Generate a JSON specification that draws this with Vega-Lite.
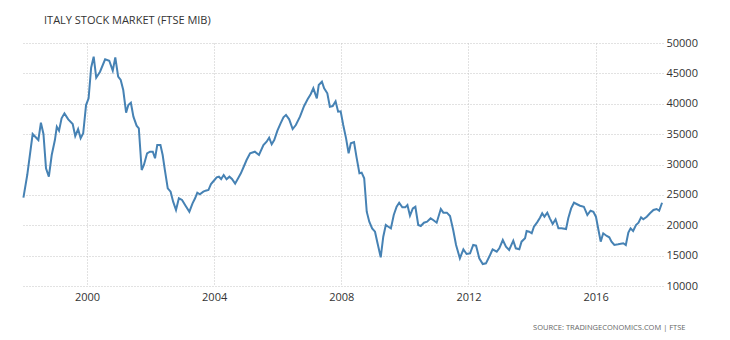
{
  "$schema": "https://vega.github.io/schema/vega-lite/v6.json",
  "width": 641,
  "height": 243,
  "autosize": {"type": "none"},
  "padding": {"left": 22, "top": 43, "right": 67, "bottom": 54},
  "background": "white",
  "title": {
    "text": "ITALY STOCK MARKET (FTSE MIB)",
    "anchor": "start",
    "frame": "group",
    "dx": 22,
    "offset": 5,
    "baseline": "middle",
    "font": "Open Sans",
    "fontSize": 11,
    "fontWeight": "normal",
    "color": "#333333"
  },
  "config": {
    "view": {"stroke": null},
    "axis": {
      "labelFont": "Open Sans",
      "labelFontSize": 11,
      "labelColor": "#333333",
      "grid": true,
      "gridColor": "#c4c4c4",
      "gridDash": [1, 2],
      "gridWidth": 1,
      "domain": false,
      "ticks": false
    }
  },
  "data": {
    "values": [
      {"year": 1998.00, "value": 24540},
      {"year": 1998.12, "value": 28270},
      {"year": 1998.29, "value": 35020},
      {"year": 1998.47, "value": 34030},
      {"year": 1998.55, "value": 36880},
      {"year": 1998.63, "value": 35020},
      {"year": 1998.71, "value": 29370},
      {"year": 1998.80, "value": 27990},
      {"year": 1998.89, "value": 31560},
      {"year": 1998.99, "value": 34030},
      {"year": 1999.05, "value": 36220},
      {"year": 1999.12, "value": 35570},
      {"year": 1999.20, "value": 37600},
      {"year": 1999.29, "value": 38420},
      {"year": 1999.41, "value": 37430},
      {"year": 1999.55, "value": 36670},
      {"year": 1999.63, "value": 34690},
      {"year": 1999.72, "value": 35840},
      {"year": 1999.80, "value": 34310},
      {"year": 1999.88, "value": 35130},
      {"year": 1999.97, "value": 39790},
      {"year": 2000.05, "value": 40890},
      {"year": 2000.13, "value": 45930},
      {"year": 2000.21, "value": 47740},
      {"year": 2000.29, "value": 44290},
      {"year": 2000.41, "value": 45270},
      {"year": 2000.57, "value": 47310},
      {"year": 2000.70, "value": 47080},
      {"year": 2000.81, "value": 45440},
      {"year": 2000.89, "value": 47640},
      {"year": 2000.98, "value": 44450},
      {"year": 2001.06, "value": 43910},
      {"year": 2001.14, "value": 42260},
      {"year": 2001.23, "value": 38530},
      {"year": 2001.30, "value": 39790},
      {"year": 2001.38, "value": 40170},
      {"year": 2001.46, "value": 37870},
      {"year": 2001.56, "value": 36390},
      {"year": 2001.63, "value": 35960},
      {"year": 2001.72, "value": 29090},
      {"year": 2001.79, "value": 29920},
      {"year": 2001.89, "value": 31840},
      {"year": 2001.98, "value": 32110},
      {"year": 2002.07, "value": 32110},
      {"year": 2002.14, "value": 31020},
      {"year": 2002.21, "value": 33210},
      {"year": 2002.31, "value": 33210},
      {"year": 2002.38, "value": 31560},
      {"year": 2002.45, "value": 29090},
      {"year": 2002.54, "value": 26080},
      {"year": 2002.63, "value": 25520},
      {"year": 2002.71, "value": 23880},
      {"year": 2002.80, "value": 22510},
      {"year": 2002.89, "value": 24440},
      {"year": 2002.99, "value": 24160},
      {"year": 2003.10, "value": 23220},
      {"year": 2003.22, "value": 22230},
      {"year": 2003.32, "value": 23610},
      {"year": 2003.40, "value": 24440},
      {"year": 2003.47, "value": 25360},
      {"year": 2003.55, "value": 25090},
      {"year": 2003.66, "value": 25520},
      {"year": 2003.73, "value": 25690},
      {"year": 2003.82, "value": 25800},
      {"year": 2003.90, "value": 26790},
      {"year": 2003.99, "value": 27330},
      {"year": 2004.08, "value": 27890},
      {"year": 2004.15, "value": 27990},
      {"year": 2004.22, "value": 27610},
      {"year": 2004.30, "value": 28270},
      {"year": 2004.39, "value": 27560},
      {"year": 2004.48, "value": 27990},
      {"year": 2004.56, "value": 27610},
      {"year": 2004.66, "value": 26850},
      {"year": 2004.78, "value": 27990},
      {"year": 2004.84, "value": 28550},
      {"year": 2004.94, "value": 29750},
      {"year": 2005.02, "value": 30740},
      {"year": 2005.13, "value": 31840},
      {"year": 2005.28, "value": 32110},
      {"year": 2005.41, "value": 31560},
      {"year": 2005.55, "value": 33210},
      {"year": 2005.65, "value": 33750},
      {"year": 2005.73, "value": 34410},
      {"year": 2005.81, "value": 33320},
      {"year": 2005.89, "value": 34030},
      {"year": 2005.99, "value": 35570},
      {"year": 2006.09, "value": 36780},
      {"year": 2006.18, "value": 37770},
      {"year": 2006.26, "value": 38150},
      {"year": 2006.36, "value": 37440},
      {"year": 2006.47, "value": 35840},
      {"year": 2006.57, "value": 36500},
      {"year": 2006.70, "value": 37870},
      {"year": 2006.83, "value": 39630},
      {"year": 2006.94, "value": 40730},
      {"year": 2007.04, "value": 41600},
      {"year": 2007.12, "value": 42540},
      {"year": 2007.23, "value": 40890},
      {"year": 2007.29, "value": 43080},
      {"year": 2007.39, "value": 43630},
      {"year": 2007.46, "value": 42540},
      {"year": 2007.56, "value": 41720},
      {"year": 2007.64, "value": 39520},
      {"year": 2007.73, "value": 39630},
      {"year": 2007.82, "value": 40400},
      {"year": 2007.90, "value": 38690},
      {"year": 2007.98, "value": 38750},
      {"year": 2008.06, "value": 36500},
      {"year": 2008.15, "value": 34310},
      {"year": 2008.23, "value": 31840},
      {"year": 2008.30, "value": 33490},
      {"year": 2008.40, "value": 33700},
      {"year": 2008.48, "value": 31180},
      {"year": 2008.57, "value": 28550},
      {"year": 2008.64, "value": 28650},
      {"year": 2008.72, "value": 27730},
      {"year": 2008.80, "value": 22230},
      {"year": 2008.88, "value": 20580},
      {"year": 2008.97, "value": 19490},
      {"year": 2009.06, "value": 18940},
      {"year": 2009.14, "value": 17030},
      {"year": 2009.24, "value": 14720},
      {"year": 2009.32, "value": 18110},
      {"year": 2009.40, "value": 20040},
      {"year": 2009.48, "value": 19760},
      {"year": 2009.56, "value": 19490},
      {"year": 2009.65, "value": 21690},
      {"year": 2009.74, "value": 23050},
      {"year": 2009.82, "value": 23710},
      {"year": 2009.92, "value": 22950},
      {"year": 2010.01, "value": 22950},
      {"year": 2010.08, "value": 23330},
      {"year": 2010.16, "value": 21570},
      {"year": 2010.25, "value": 22780},
      {"year": 2010.33, "value": 23050},
      {"year": 2010.42, "value": 20040},
      {"year": 2010.50, "value": 19880},
      {"year": 2010.60, "value": 20420},
      {"year": 2010.70, "value": 20580},
      {"year": 2010.81, "value": 21140},
      {"year": 2010.89, "value": 20860},
      {"year": 2011.00, "value": 20420},
      {"year": 2011.13, "value": 22670},
      {"year": 2011.21, "value": 22070},
      {"year": 2011.32, "value": 22070},
      {"year": 2011.42, "value": 21520},
      {"year": 2011.52, "value": 19220},
      {"year": 2011.61, "value": 16750},
      {"year": 2011.73, "value": 14560},
      {"year": 2011.84, "value": 16040},
      {"year": 2011.94, "value": 15270},
      {"year": 2012.05, "value": 15380},
      {"year": 2012.15, "value": 16750},
      {"year": 2012.24, "value": 16640},
      {"year": 2012.34, "value": 14560},
      {"year": 2012.45, "value": 13620},
      {"year": 2012.55, "value": 13730},
      {"year": 2012.68, "value": 15100},
      {"year": 2012.76, "value": 16040},
      {"year": 2012.89, "value": 15650},
      {"year": 2012.97, "value": 16200},
      {"year": 2013.08, "value": 17570},
      {"year": 2013.18, "value": 16470},
      {"year": 2013.28, "value": 15930},
      {"year": 2013.41, "value": 17460},
      {"year": 2013.49, "value": 16200},
      {"year": 2013.60, "value": 16040},
      {"year": 2013.67, "value": 17300},
      {"year": 2013.78, "value": 17850},
      {"year": 2013.83, "value": 19050},
      {"year": 2013.91, "value": 18940},
      {"year": 2013.99, "value": 18670},
      {"year": 2014.06, "value": 19760},
      {"year": 2014.16, "value": 20480},
      {"year": 2014.25, "value": 21240},
      {"year": 2014.32, "value": 21970},
      {"year": 2014.39, "value": 21410},
      {"year": 2014.48, "value": 22070},
      {"year": 2014.56, "value": 21140},
      {"year": 2014.65, "value": 20200},
      {"year": 2014.74, "value": 20980},
      {"year": 2014.83, "value": 19490},
      {"year": 2014.93, "value": 19490},
      {"year": 2015.07, "value": 19380},
      {"year": 2015.14, "value": 21140},
      {"year": 2015.23, "value": 22780},
      {"year": 2015.32, "value": 23710},
      {"year": 2015.40, "value": 23500},
      {"year": 2015.51, "value": 23220},
      {"year": 2015.63, "value": 23050},
      {"year": 2015.74, "value": 21690},
      {"year": 2015.84, "value": 22390},
      {"year": 2015.93, "value": 22230},
      {"year": 2016.01, "value": 21410},
      {"year": 2016.09, "value": 19220},
      {"year": 2016.16, "value": 17300},
      {"year": 2016.24, "value": 18670},
      {"year": 2016.35, "value": 18230},
      {"year": 2016.43, "value": 18010},
      {"year": 2016.50, "value": 17300},
      {"year": 2016.59, "value": 16750},
      {"year": 2016.71, "value": 16860},
      {"year": 2016.87, "value": 17030},
      {"year": 2016.95, "value": 16750},
      {"year": 2017.03, "value": 18780},
      {"year": 2017.10, "value": 19490},
      {"year": 2017.18, "value": 19050},
      {"year": 2017.27, "value": 20040},
      {"year": 2017.35, "value": 20420},
      {"year": 2017.43, "value": 21300},
      {"year": 2017.50, "value": 20980},
      {"year": 2017.61, "value": 21410},
      {"year": 2017.71, "value": 21970},
      {"year": 2017.82, "value": 22510},
      {"year": 2017.92, "value": 22670},
      {"year": 2018.00, "value": 22390},
      {"year": 2018.09, "value": 23710}
    ]
  },
  "mark": {"type": "line", "color": "#4682b4", "strokeWidth": 2, "interpolate": "linear"},
  "encoding": {
    "x": {
      "field": "year",
      "type": "quantitative",
      "scale": {"domain": [1997.955, 2018.12], "nice": false, "zero": false},
      "axis": {
        "values": [2000, 2004, 2008, 2012, 2016],
        "format": "d",
        "labelPadding": 5,
        "title": "SOURCE: TRADINGECONOMICS.COM | FTSE",
        "titleFont": "Open Sans",
        "titleFontSize": 7.5,
        "titleFontWeight": "normal",
        "titleColor": "#666666",
        "titleAlign": "right",
        "titleBaseline": "middle",
        "titleX": 663,
        "titleY": 41
      }
    },
    "y": {
      "field": "value",
      "type": "quantitative",
      "scale": {"domain": [10000, 50000], "nice": false, "zero": false},
      "axis": {
        "orient": "right",
        "values": [10000, 15000, 20000, 25000, 30000, 35000, 40000, 45000, 50000],
        "format": "d",
        "labelPadding": 3,
        "title": null
      }
    }
  }
}
